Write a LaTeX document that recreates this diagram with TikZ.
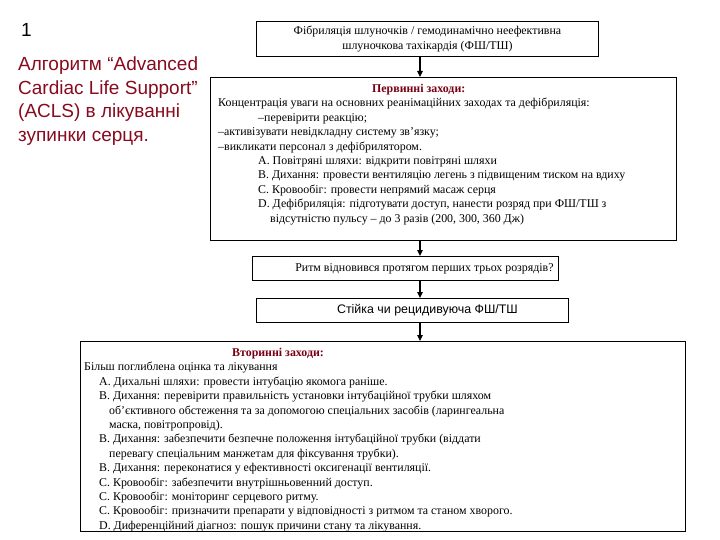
\documentclass[tikz,border=0pt]{standalone}
\usepackage{fontspec}
\setmainfont{Liberation Serif}
\newfontfamily\arialfont{Liberation Sans}
\usepackage{xcolor}
\usetikzlibrary{arrows.meta,positioning}
\definecolor{titlered}{RGB}{135,10,30}
\definecolor{headred}{RGB}{120,0,20}
\tikzset{
    stepbox/.style={
        rectangle,
        draw=black,
        line width=0.9pt,
        anchor=north west,
        inner sep=0pt
    },
    bodytext/.style={
        anchor=north west,
        inner sep=0pt,
        align=left,
        font=\fontsize{11.9}{14.4}\selectfont
    },
    sanslabel/.style={font=\arialfont\fontsize{12.4}{14}\selectfont},
    titletext/.style={
        anchor=north west,
        inner sep=0pt,
        align=left,
        text=titlered,
        font=\arialfont\fontsize{19}{23.5}\selectfont
    },
    flowarrow/.style={-{Triangle[length=6pt,width=5.5pt]}, line width=1.3pt, draw=black},
}
\newcommand{\headline}[1]{\textcolor{headred}{\textbf{#1}}}

\begin{document}
\begin{tikzpicture}[x=1pt, y=-1pt]
    \useasboundingbox (0,0) rectangle (720,540);

    % slide title
    \node[anchor=base west, inner sep=0pt, font=\arialfont\fontsize{19}{23}\selectfont] (slideno) at (21,37) {1};
    \node[titletext] (title) at (18,57) {Алгоритм “Advanced\\Cardiac Life Support”\\(ACLS) в лікуванні\\зупинки серця.};

    % flow boxes
    \node[stepbox, minimum width=342, minimum height=35, align=center,
          font=\fontsize{11.9}{14.4}\selectfont] (vf) at (256,21)
        {Фібриляція шлуночків / гемодинамічно неефективна\\шлуночкова тахікардія (ФШ/ТШ)};
    \node[stepbox, minimum width=466, minimum height=163] (prim) at (210,77) {};
    \node[bodytext] (primtext) at ([shift={(8,7)}]prim.north west)
        {\hspace*{154pt}\headline{Первинні заходи:}\\
         Концентрація уваги на основних реанімаційних заходах та дефібриляція:\\
         \hspace*{40pt}–перевірити реакцію;\\
         –активізувати невідкладну систему зв’язку;\\
         –викликати персонал з дефібрилятором.\\
         \hspace*{40pt}A. Повітряні шляхи: відкрити повітряні шляхи\\
         \hspace*{40pt}B. Дихання: провести вентиляцію легень з підвищеним тиском на вдиху\\
         \hspace*{40pt}C. Кровообіг: провести непрямий масаж серця\\
         \hspace*{40pt}D. Дефібриляція: підготувати доступ, нанести розряд при ФШ/ТШ з\\
         \hspace*{52pt}відсутністю пульсу – до 3 разів (200, 300, 360 Дж)};
    \node[stepbox, minimum width=306, minimum height=24,
          label={[font=\fontsize{11.9}{14}\selectfont, xshift=19]center:Ритм відновився протягом перших трьох розрядів?}] (rhythm) at (252,256) {};
    \node[stepbox, minimum width=312, minimum height=24,
          label={[sanslabel, xshift=15]center:Стійка чи рецидивуюча ФШ/ТШ}] (recur) at (256,298) {};
    \node[stepbox, minimum width=605, minimum height=190] (sec) at (80,341) {};
    \node[bodytext] (sectext) at ([shift={(4,7)}]sec.north west)
        {\hspace*{148pt}\headline{Вторинні заходи:}\\
         Більш поглиблена оцінка та лікування\\
         \hspace*{15pt}A. Дихальні шляхи: провести інтубацію якомога раніше.\\
         \hspace*{15pt}B. Дихання: перевірити правильність установки інтубаційної трубки шляхом\\
         \hspace*{25pt}об’єктивного обстеження та за допомогою спеціальних засобів (ларингеальна\\
         \hspace*{25pt}маска, повітропровід).\\
         \hspace*{15pt}B. Дихання: забезпечити безпечне положення інтубаційної трубки (віддати\\
         \hspace*{25pt}перевагу спеціальним манжетам для фіксування трубки).\\
         \hspace*{15pt}B. Дихання: переконатися у ефективності оксигенації вентиляції.\\
         \hspace*{15pt}C. Кровообіг: забезпечити внутрішньовенний доступ.\\
         \hspace*{15pt}C. Кровообіг: моніторинг серцевого ритму.\\
         \hspace*{15pt}C. Кровообіг: призначити препарати у відповідності з ритмом та станом хворого.\\
         \hspace*{15pt}D. Диференційний діагноз: пошук причини стану та лікування.};

    % arrows down the middle
    \coordinate (spine) at (420,0);
    \draw[flowarrow] (vf.south -| spine) -- (prim.north -| spine);
    \draw[flowarrow] (prim.south -| spine) -- (rhythm.north -| spine);
    \draw[flowarrow] (rhythm.south -| spine) -- (recur.north -| spine);
    \draw[flowarrow] (recur.south -| spine) -- (sec.north -| spine);
\end{tikzpicture}
\end{document}
